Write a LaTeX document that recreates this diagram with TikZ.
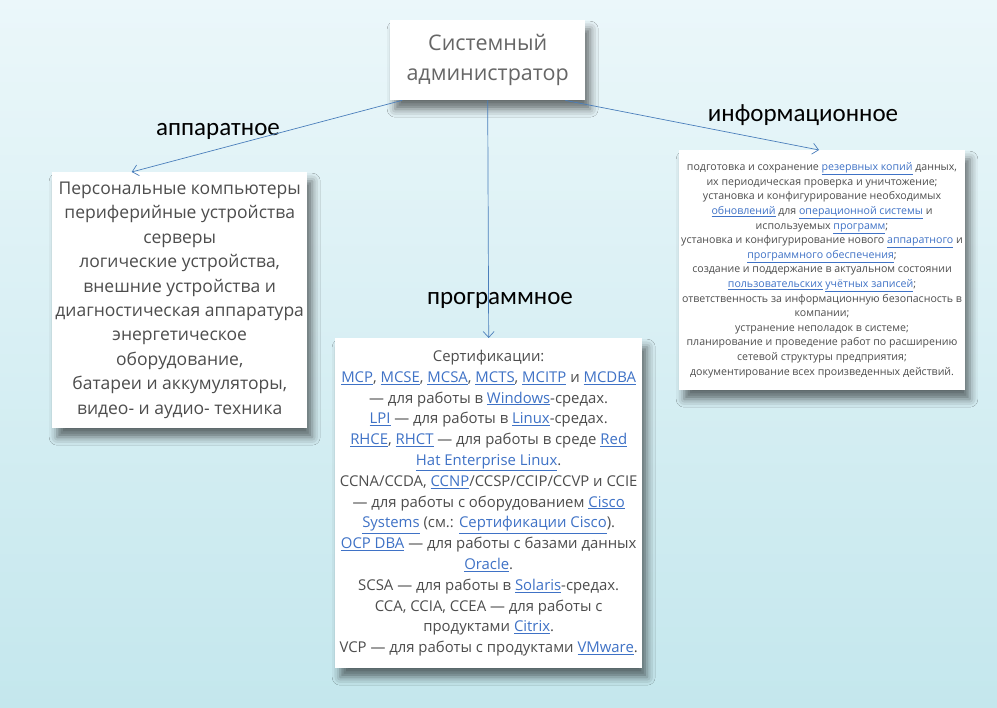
\documentclass[tikz,border=0pt]{standalone}
\usepackage{fontspec}
\setmainfont{Open Sans}
\newfontfamily\labelfont{Carlito}
\usepackage{xcolor}
\usetikzlibrary{arrows.meta}
\usetikzlibrary{shadows.blur}
\definecolor{linkblue}{HTML}{3F72C6}
\definecolor{boxtext}{HTML}{4D4D4D}
\definecolor{arrowblue}{HTML}{4A7EBB}
\definecolor{bgtop}{HTML}{EBF7FA}
\definecolor{bgbottom}{HTML}{C4E7ED}
\newcommand\lnk[1]{\textcolor{linkblue}{\underline{#1}}}

\begin{document}
\begin{tikzpicture}[
  x=1pt, y=-1pt,
  card/.style={fill=white, align=center, text=boxtext, inner sep=2pt,
    anchor=north west,
    blur shadow={shadow xshift=5pt, shadow yshift=-9pt,
      shadow blur radius=8pt, shadow opacity=55}},
  branch/.style={font=\labelfont\fontsize{25}{28}\selectfont, text=black},
  arr/.style={draw=arrowblue, line width=0.7pt,
    -{Straight Barb[length=6pt,width=11pt]}},
]
% background
\shade[top color=bgtop, bottom color=bgbottom] (0,0) rectangle (997,708);
\useasboundingbox (0,0) rectangle (997,708);

% boxes
\node[card, minimum width=195pt, minimum height=80pt,
  font=\fontsize{21.5}{30}\selectfont, text=black!60] (admin) at (390,20)
  {Системный\\администратор};

\node[card, minimum width=255pt, minimum height=256pt,
  font=\fontsize{17.5}{24.4}\selectfont] (hw) at (52,172)
  {Персональные компьютеры\\
   периферийные устройства\\
   серверы\\
   логические устройства,\\
   внешние устройства и\\
   диагностическая аппаратура\\
   энергетическое\\
   оборудование,\\
   батареи и аккумуляторы,\\
   видео- и аудио- техника};

\node[card, minimum width=307pt, minimum height=330pt,
  font=\fontsize{14.9}{20.8}\selectfont] (sw) at (335,338)
  {Сертификации:\\
   \lnk{MCP}, \lnk{MCSE}, \lnk{MCSA}, \lnk{MCTS}, \lnk{MCITP} и \lnk{MCDBA}\\
   — для работы в \lnk{Windows}-средах.\\
   \lnk{LPI} — для работы в \lnk{Linux}-средах.\\
   \lnk{RHCE}, \lnk{RHCT} — для работы в среде \lnk{Red}\\
   \lnk{Hat Enterprise Linux}.\\
   CCNA/CCDA, \lnk{CCNP}/CCSP/CCIP/CCVP и CCIE\\
   — для работы с оборудованием \lnk{Cisco}\\
   \lnk{Systems} (см.: \lnk{Сертификации Cisco}).\\
   \lnk{OCP DBA} — для работы с базами данных\\
   \lnk{Oracle}.\\
   SCSA — для работы в \lnk{Solaris}-средах.\\
   CCA, CCIA, CCEA — для работы с\\
   продуктами \lnk{Citrix}.\\
   VCP — для работы с продуктами \lnk{VMware}.};

\node[card, minimum width=284pt, minimum height=240pt,
  font=\fontsize{10.6}{14.6}\selectfont] (info) at (679,150)
  {подготовка и сохранение \lnk{резервных копий} данных,\\
   их периодическая проверка и уничтожение;\\
   установка и конфигурирование необходимых\\
   \lnk{обновлений} для \lnk{операционной системы} и\\
   используемых \lnk{программ};\\
   установка и конфигурирование нового \lnk{аппаратного} и\\
   \lnk{программного обеспечения};\\
   создание и поддержание в актуальном состоянии\\
   \lnk{пользовательских} \lnk{учётных записей};\\
   ответственность за информационную безопасность в\\
   компании;\\
   устранение неполадок в системе;\\
   планирование и проведение работ по расширению\\
   сетевой структуры предприятия;\\
   документирование всех произведенных действий.};

% branch labels
\node[branch] (hwlabel) at (218,131) {аппаратное};
\node[branch] (swlabel) at (500,300) {программное};
\node[branch] (infolabel) at (803,115) {информационное};

% connectors
\draw[arr] ([xshift=12pt]admin.south west) -- ([xshift=-48pt]hw.north);
\draw[arr] (admin.south) -- (sw.north);
\draw[arr] ([xshift=-20pt]admin.south east) -- ([xshift=-3pt]info.north);
\end{tikzpicture}
\end{document}
